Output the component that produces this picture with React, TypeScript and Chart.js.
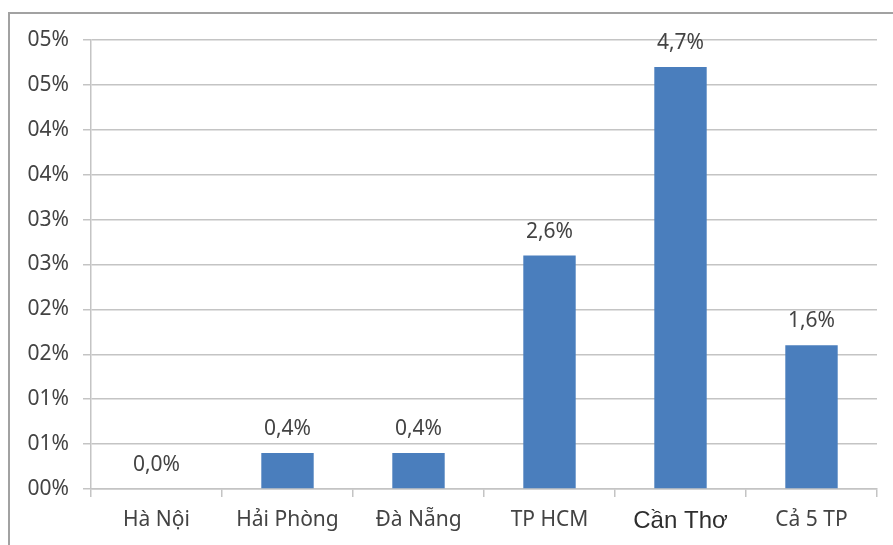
import React, { useEffect, useRef } from "react";
import { Chart, registerables } from "chart.js";

Chart.register(...registerables);

const categories = ["Hà Nội", "Hải Phòng", "Đà Nẵng", "TP HCM", "Cần Thơ", "Cả 5 TP"];
const values = [0.0, 0.4, 0.4, 2.6, 4.7, 1.6];
const valueLabels = ["0,0%", "0,4%", "0,4%", "2,6%", "4,7%", "1,6%"];
const yTickLabels = ["00%", "01%", "01%", "02%", "02%", "03%", "03%", "04%", "04%", "05%", "05%"];

const BAR_COLOR = "#4a7ebd";
const GRID = "#c4c4c4";
const TEXT = "#434343";
const FONT = "'Noto Sans', 'DejaVu Sans', sans-serif";

const framePlugin = {
  id: "frame",
  beforeDraw(chart: any) {
    const ctx = chart.ctx;
    ctx.save();
    ctx.fillStyle = "#ffffff";
    ctx.fillRect(0, 0, chart.width, chart.height);
    ctx.strokeStyle = "#a2a2a2";
    ctx.lineWidth = 2;
    ctx.beginPath();
    ctx.moveTo(9, chart.height);
    ctx.lineTo(9, 13);
    ctx.lineTo(chart.width, 13);
    ctx.stroke();
    ctx.restore();
  },
};

const labelPlugin = {
  id: "valueLabels",
  afterDatasetsDraw(chart: any) {
    const ctx = chart.ctx;
    const meta = chart.getDatasetMeta(0);
    ctx.save();
    ctx.fillStyle = TEXT;
    ctx.font = `21px ${FONT}`;
    ctx.textAlign = "center";
    ctx.textBaseline = "middle";
    meta.data.forEach((bar: any, i: number) => {
      ctx.fillText(valueLabels[i], bar.x, bar.y - 24);
    });
    ctx.restore();
  },
};

export default function App() {
  const ref = useRef<HTMLCanvasElement>(null);
  useEffect(() => {
    const chart = new Chart(ref.current as HTMLCanvasElement, {
      type: "bar",
      data: {
        labels: categories,
        datasets: [
          {
            data: values,
            backgroundColor: BAR_COLOR,
            borderWidth: 0,
            categoryPercentage: 1,
            barPercentage: 0.4,
          },
        ],
      },
      options: {
        responsive: false,
        animation: false,
        devicePixelRatio: 1,
        layout: { padding: { left: 0, top: 40, right: 16, bottom: 0 } },
        plugins: { legend: { display: false }, tooltip: { enabled: false } },
        scales: {
          x: {
            afterFit: (s: any) => {
              s.height = 56;
            },
            grid: {
              drawOnChartArea: false,
              drawTicks: true,
              tickLength: 8,
              offset: true,
              color: GRID,
              lineWidth: 1.5,
            },
            border: { display: true, color: GRID, width: 1.5 },
            ticks: {
              padding: 10,
              color: (c: any) => (c.index === 4 ? "#2e2e2e" : TEXT),
              font: (c: any) =>
                c.index === 4
                  ? { family: "'Liberation Sans', Arial, sans-serif", size: 24 }
                  : { family: FONT, size: 21 },
            },
          },
          y: {
            min: 0,
            max: 5,
            afterFit: (s: any) => {
              s.width = 91;
            },
            ticks: {
              stepSize: 0.5,
              padding: 14,
              color: TEXT,
              font: { family: FONT, size: 21 },
              callback: (_v: any, i: number) => yTickLabels[i],
            },
            grid: { color: GRID, lineWidth: 1.5, tickLength: 8, drawTicks: true },
            border: { display: true, color: GRID, width: 1.5 },
          },
        },
      },
      plugins: [framePlugin, labelPlugin],
    });
    return () => chart.destroy();
  }, []);
  return (
    <div style={{ position: "absolute", left: 0, top: 0, width: 893, height: 545, background: "#fff" }}>
      <canvas ref={ref} width={893} height={545} style={{ display: "block" }} />
    </div>
  );
}
